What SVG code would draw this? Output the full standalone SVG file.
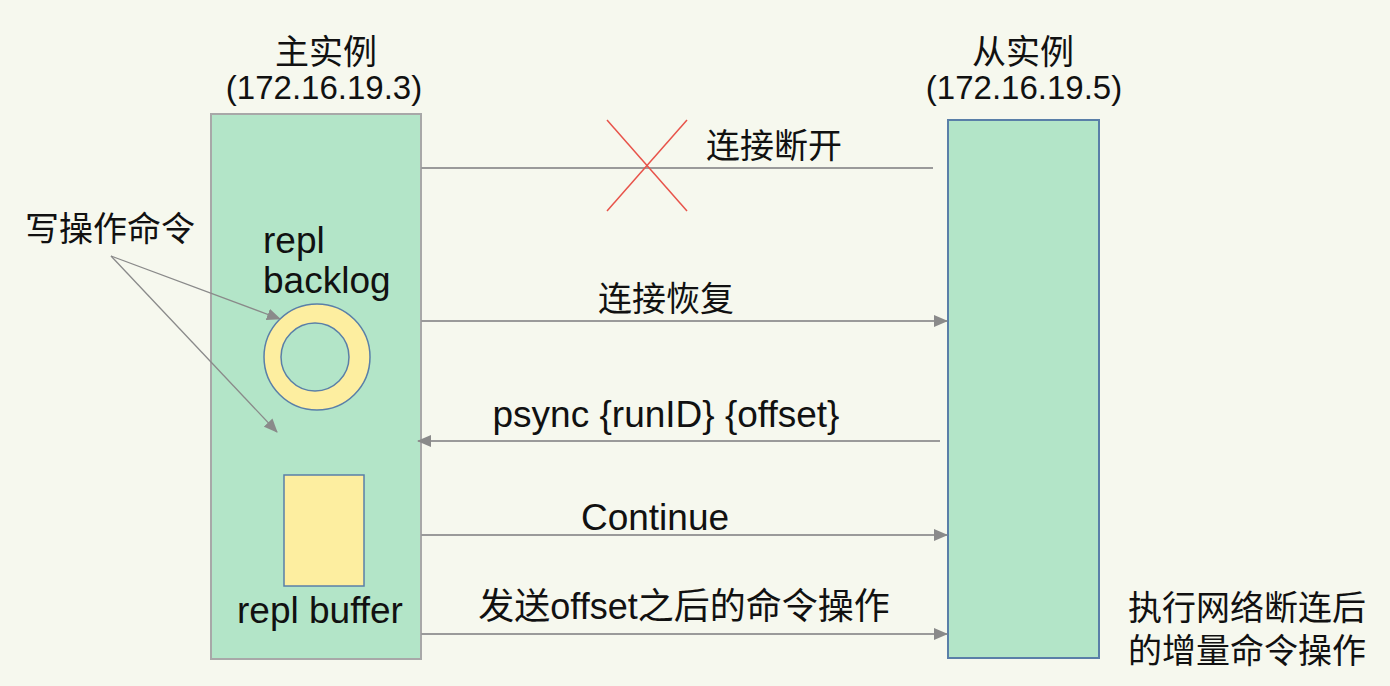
<svg xmlns="http://www.w3.org/2000/svg" width="1390" height="686" viewBox="0 0 1390 686">
<defs>
<style>
.t{font-family:"Liberation Sans","Noto Sans CJK SC",sans-serif;font-size:37px;fill:#111}
.h{font-family:"Liberation Sans","Noto Sans CJK SC",sans-serif;font-size:33px;fill:#111}
.c{font-family:"Noto Sans CJK SC","Liberation Sans",sans-serif;font-size:34px;fill:#111}
.ln{stroke:#9a9a9a;stroke-width:2;fill:none}
.ann{stroke:#8a8a8a;stroke-width:1.3;fill:none}
</style>
<marker id="ah" markerWidth="14" markerHeight="12" refX="13" refY="6" orient="auto" markerUnits="userSpaceOnUse">
<path d="M0,0 L14,6 L0,12 Z" fill="#8a8a8a"/>
</marker>
</defs>
<rect x="0" y="0" width="1390" height="686" fill="#f6f8ee"/>

<g id="master">
<text class="c" x="326" y="64" text-anchor="middle">主实例</text>
<text class="h" x="324" y="99" text-anchor="middle">(172.16.19.3)</text>
<rect x="211" y="114" width="210" height="545" fill="#b3e5c8" stroke="#a8a8a8" stroke-width="2"/>
</g>

<g id="slave">
<text class="c" x="1023" y="64" text-anchor="middle">从实例</text>
<text class="h" x="1024" y="99" text-anchor="middle">(172.16.19.5)</text>
<rect x="948" y="120" width="151" height="538" fill="#b3e5c8" stroke="#5a7fa8" stroke-width="2"/>
</g>

<g id="backlog">
<text class="t" x="263" y="253">repl</text>
<text class="t" x="263" y="293">backlog</text>
<circle cx="317" cy="357" r="53" fill="#fdeea0" stroke="#5a7fa8" stroke-width="1.5"/>
<circle cx="315" cy="357" r="34" fill="#b3e5c8" stroke="#5a7fa8" stroke-width="1.5"/>
</g>

<g id="buffer">
<rect x="284" y="475" width="80" height="111" fill="#fdeea0" stroke="#5a7fa8" stroke-width="1.5"/>
<text class="t" x="237" y="623">repl buffer</text>
</g>

<g id="write-cmd">
<text class="c" x="25" y="241">写操作命令</text>
</g>

<g id="incr-cmd">
<text class="c" x="1128" y="620">执行网络断连后</text>
<text class="c" x="1128" y="663">的增量命令操作</text>
</g>

<g id="connectors">
<line class="ln" x1="421" y1="168" x2="933" y2="168"/>
<line x1="607" y1="120" x2="687" y2="211" stroke="#e8534a" stroke-width="1.5"/>
<line x1="687" y1="120" x2="607" y2="211" stroke="#e8534a" stroke-width="1.5"/>
<text class="c" x="706" y="158">连接断开</text>

<line class="ln" x1="421" y1="321" x2="947" y2="321" marker-end="url(#ah)"/>
<text class="c" x="666" y="311" text-anchor="middle">连接恢复</text>

<line class="ln" x1="940" y1="441" x2="418" y2="441" marker-end="url(#ah)"/>
<text class="t" x="666" y="427" text-anchor="middle">psync {runID} {offset}</text>

<line class="ln" x1="421" y1="535" x2="947" y2="535" marker-end="url(#ah)"/>
<text class="t" x="655" y="530" text-anchor="middle">Continue</text>

<line class="ln" x1="421" y1="634" x2="947" y2="634" marker-end="url(#ah)"/>
<text class="t" x="684" y="619" text-anchor="middle" style="font-size:36px">发送offset之后的命令操作</text>

<line class="ann" x1="111" y1="256" x2="280" y2="319" marker-end="url(#ah)"/>
<line class="ann" x1="111" y1="256" x2="277" y2="432" marker-end="url(#ah)"/>
</g>
</svg>
